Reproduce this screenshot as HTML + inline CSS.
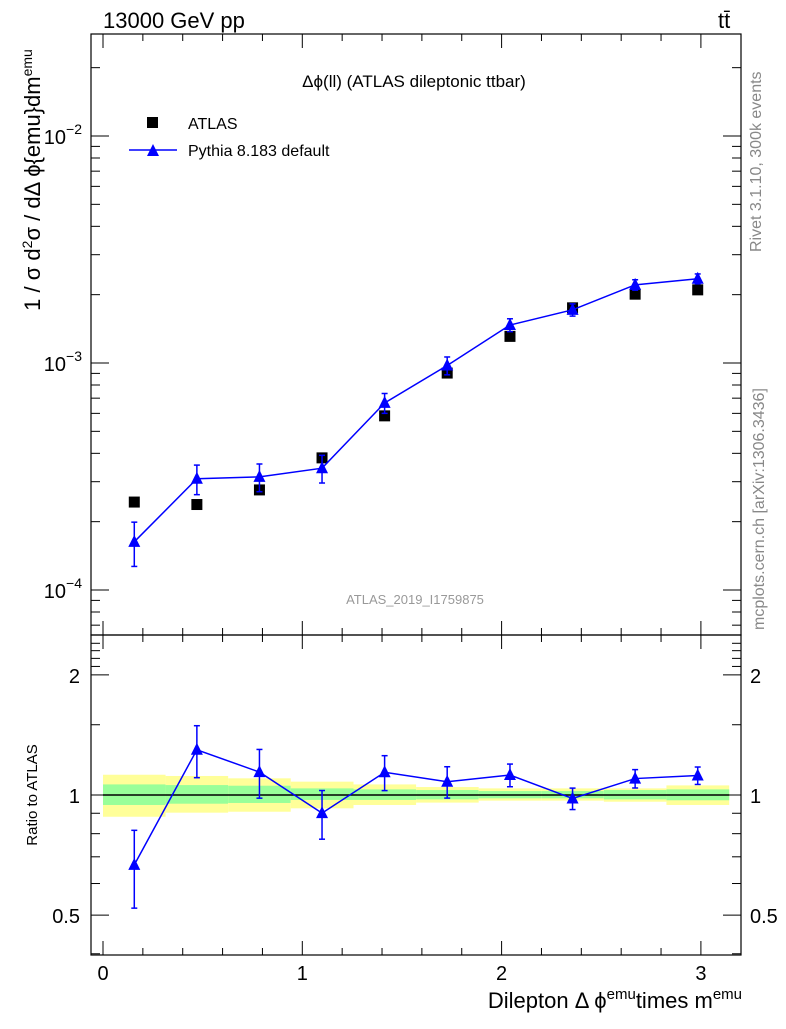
<!DOCTYPE html>
<html><head><meta charset="utf-8"><style>
body{margin:0;background:#fff;width:786px;height:1024px;overflow:hidden}
svg{font-family:"Liberation Sans",sans-serif}
</style></head><body>
<svg id="c" width="786" height="1024" xmlns="http://www.w3.org/2000/svg">
<text x="103" y="28" font-size="22">13000 GeV pp</text>
<text x="718" y="28" font-size="22">tt̄</text>
<text x="414" y="87" font-size="17" text-anchor="middle">Δϕ(ll) (ATLAS dileptonic ttbar)</text>
<text x="415" y="604" font-size="13" fill="#999" text-anchor="middle">ATLAS_2019_I1759875</text>
<text transform="translate(761,252) rotate(-90)" font-size="16" fill="#888">Rivet 3.1.10,  300k events</text>
<text transform="translate(764,630) rotate(-90)" font-size="16" fill="#888">mcplots.cern.ch [arXiv:1306.3436]</text>
<text transform="translate(40,180) rotate(-90)" font-size="22" text-anchor="middle">1 / σ  d<tspan font-size="14" dy="-8">2</tspan><tspan dy="8">σ / dΔ ϕ{emu}dm</tspan><tspan font-size="14" dy="-8">emu</tspan></text>
<text transform="translate(37,795) rotate(-90)" font-size="15" text-anchor="middle">Ratio to ATLAS</text>
<text x="742" y="1008" font-size="22" text-anchor="end">Dilepton Δ ϕ<tspan font-size="15" dy="-9">emu</tspan><tspan dy="9">times m</tspan><tspan font-size="15" dy="-9">emu</tspan></text>
<g>
<rect x="147" y="117" width="11" height="11" fill="#000"/>
<text x="188" y="129" font-size="16">ATLAS</text>
<line x1="129" y1="150" x2="177" y2="150" stroke="#00f" stroke-width="1.5"/>
<polygon points="147,156 159,156 153,144" fill="#00f"/>
<text x="188" y="156" font-size="16">Pythia 8.183 default</text>
</g>
<g id="g"></g>
</svg>
<script>
const binEdges=[0,0.314,0.628,0.942,1.257,1.571,1.885,2.199,2.513,2.827,3.142];
const xCenters=[0.157,0.471,0.785,1.099,1.413,1.727,2.042,2.356,2.670,2.984];
const atlasVals=[2.44e-4,2.38e-4,2.76e-4,3.82e-4,5.85e-4,9.03e-4,1.31e-3,1.75e-3,2.01e-3,2.10e-3];
const pythiaVals=[1.63e-4,3.09e-4,3.15e-4,3.44e-4,6.67e-4,9.75e-4,1.47e-3,1.715e-3,2.21e-3,2.35e-3];
const pythiaErr=[3.6e-5,4.6e-5,4.4e-5,4.8e-5,6.7e-5,8.8e-5,9.6e-5,1.06e-4,1.17e-4,1.18e-4];
const yellowHi=[1.124,1.116,1.101,1.080,1.063,1.047,1.039,1.039,1.039,1.057];
const yellowLo=[0.882,0.903,0.908,0.926,0.944,0.957,0.968,0.968,0.962,0.944];
const greenHi=[1.063,1.059,1.055,1.039,1.033,1.029,1.023,1.023,1.029,1.033];
const greenLo=[0.944,0.951,0.955,0.972,0.972,0.975,0.981,0.981,0.975,0.970];
const xTicks=[0,1,2,3];
const mainYTicks=[1e-4,1e-3,1e-2];
const mainYLabels=["10","10","10"],mainYExp=["−4","−3","−2"];
const ratioTicks=[0.5,1,2];

const L=91,R=741,T=34,MB=635,RB=955;
const X=v=>103+v*199.3;
const Y=v=>136-(Math.log10(v)+2)*227;
const RY=v=>795-Math.log10(v)*399;
const g=document.getElementById('g');
const NS="http://www.w3.org/2000/svg";
function mk(t,a,p){const e=document.createElementNS(NS,t);for(const k in a)e.setAttribute(k,a[k]);(p||g).appendChild(e);return e;}

for(let i=0;i<10;i++){
 const x0=X(binEdges[i]),x1=X(binEdges[i+1]);
 const y=mk('rect',{x:x0,y:RY(yellowHi[i]),width:x1-x0,height:RY(yellowLo[i])-RY(yellowHi[i]),fill:'#ffff99'});
 
 
 const gr=mk('rect',{x:x0,y:RY(greenHi[i]),width:x1-x0,height:RY(greenLo[i])-RY(greenHi[i]),fill:'#99ff99'});
 
 
}
const ref=mk('line',{x1:X(binEdges[0]),x2:X(binEdges[10]),y1:RY(1),y2:RY(1),stroke:'#000','stroke-width':1.5});



for(const [t,b,n] of [[T,MB,'main-frame'],[MB,RB,'ratio-frame']]){
 const f=mk('rect',{x:L,y:t,width:R-L,height:b-t,fill:'none',stroke:'#000','stroke-width':1.2});
 
 
}
for(let v=0;v<=3.2;v+=0.2){
 const vv=Math.round(v*10)/10, maj=Math.abs(vv-Math.round(vv))<1e-6;
 const len=maj?14:7,x=X(vv);
 for(const [t,b] of [[T,MB],[MB,RB]]){
  mk('line',{x1:x,x2:x,y1:b,y2:b-len,stroke:'#000'});
  mk('line',{x1:x,x2:x,y1:t,y2:t+len,stroke:'#000'});
 }
}
xTicks.forEach(v=>{const t=mk('text',{x:X(v),y:980,'font-size':20,'text-anchor':'middle'});t.textContent=v;
 
 });
for(let d=-5;d<=-1;d++)for(let m=1;m<=9;m++){
 const v=m*Math.pow(10,d),y=Y(v); if(y<T||y>MB)continue;
 const len=m==1?18:9;
 mk('line',{x1:L,x2:L+len,y1:y,y2:y,stroke:'#000'});
 mk('line',{x1:R,x2:R-len,y1:y,y2:y,stroke:'#000'});
}
mainYTicks.forEach((v,i)=>{const t=mk('text',{x:82,y:Y(v)+8,'font-size':20,'text-anchor':'end'});
 t.innerHTML=mainYLabels[i]+'<tspan font-size="14" dy="-10">'+mainYExp[i]+'</tspan>';
 
 });
for(let v=0.4;v<=2.5;v+=0.1){
 const vv=Math.round(v*10)/10;
 if(vv>1&&Math.abs(vv*10%5)>1e-6&&vv<2)continue;
 const y=RY(vv); if(y<MB||y>RB)continue;
 const maj=ratioTicks.includes(vv),len=maj?18:9;
 mk('line',{x1:L,x2:L+len,y1:y,y2:y,stroke:'#000'});
 mk('line',{x1:R,x2:R-len,y1:y,y2:y,stroke:'#000'});
}
ratioTicks.forEach(v=>{
 for(const [x,a] of [[80,'end'],[750,'start']]){
  const t=mk('text',{x:x,y:RY(v)+8,'font-size':20,'text-anchor':a});t.textContent=v;
  
  
 }
});
atlasVals.forEach((v,i)=>{const r=mk('rect',{x:X(xCenters[i])-5.5,y:Y(v)-5.5,width:11,height:11,fill:'#000'});
 
 });
function series(yf,vals,lo,hi,name){
 const pl=mk('polyline',{points:vals.map((v,i)=>X(xCenters[i])+','+yf(v)).join(' '),fill:'none',stroke:'#00f','stroke-width':1.5});
 
 
 vals.forEach((v,i)=>{
  const x=X(xCenters[i]),y=yf(v),y1=yf(hi[i]),y2=yf(lo[i]);
  mk('line',{x1:x,x2:x,y1:y1,y2:y2,stroke:'#00f','stroke-width':1.5});
  mk('line',{x1:x-3,x2:x+3,y1:y1,y2:y1,stroke:'#00f','stroke-width':1.5});
  mk('line',{x1:x-3,x2:x+3,y1:y2,y2:y2,stroke:'#00f','stroke-width':1.5});
  const p=mk('polygon',{points:`${x-6},${y+5} ${x+6},${y+5} ${x},${y-7}`,fill:'#00f'});
  
  
 });
}
series(Y,pythiaVals,pythiaVals.map((v,i)=>v-pythiaErr[i]),pythiaVals.map((v,i)=>v+pythiaErr[i]),'pythia');
const rat=pythiaVals.map((v,i)=>v/atlasVals[i]);
series(RY,rat,pythiaVals.map((v,i)=>(v-pythiaErr[i])/atlasVals[i]),pythiaVals.map((v,i)=>(v+pythiaErr[i])/atlasVals[i]),'pythia-ratio');
</script>
</body></html>
